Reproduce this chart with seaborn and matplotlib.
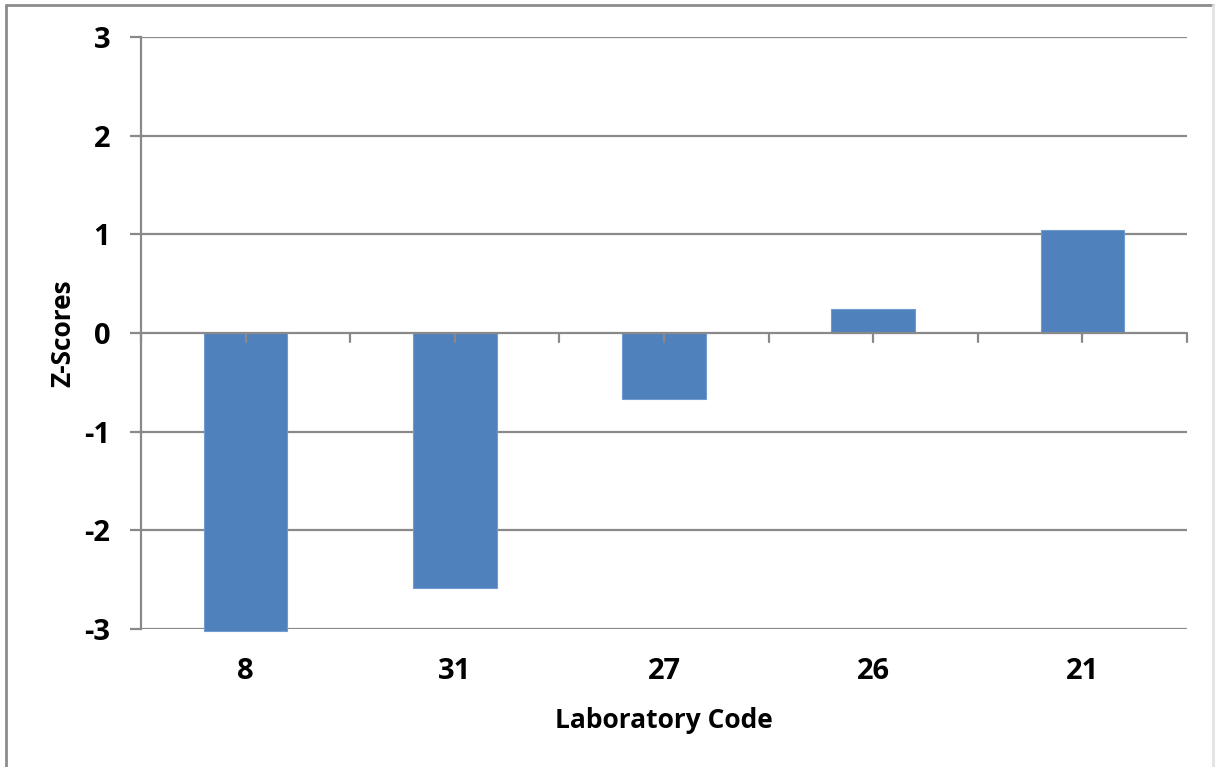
import pandas as pd
import matplotlib.pyplot as plt
import seaborn as sns
from matplotlib.lines import Line2D

# Data
lab_codes = ["8", "31", "27", "26", "21"]
z_scores = [-3.02, -2.59, -0.67, 0.24, 1.04]
y_ticks = [-3, -2, -1, 0, 1, 2, 3]

df = pd.DataFrame({"Laboratory Code": lab_codes, "Z-Scores": z_scores})

sns.set_style("white")
plt.rcParams["font.family"] = ["Open Sans", "DejaVu Sans"]
plt.rcParams["font.weight"] = "bold"
plt.rcParams["text.color"] = "black"
plt.rcParams["axes.labelcolor"] = "black"
plt.rcParams["xtick.labelcolor"] = "black"
plt.rcParams["ytick.labelcolor"] = "black"

grey = "#898989"
blue = "#4F81BD"

fig = plt.figure(figsize=(12.15, 7.67), dpi=100)
ax = fig.add_axes([0.116, 0.180, 0.861, 0.772])

sns.barplot(data=df, x="Laboratory Code", y="Z-Scores", color=blue,
            width=0.4, saturation=1, ax=ax, edgecolor="#6f9bd0", linewidth=0.8)
for p in ax.patches:
    p.set_clip_on(False)
    p.set_zorder(3)

ax.set_xlim(-0.5, len(lab_codes) - 0.5)
ax.set_ylim(-3, 3)
ax.set_yticks(y_ticks)
ax.set_yticklabels([str(t) for t in y_ticks])

# horizontal gridlines
for t in y_ticks:
    if t != 0:
        ax.axhline(t, color=grey, lw=1.6, zorder=1)
ax.axhline(0, color=grey, lw=1.6, zorder=4)

for s in ["top", "right", "bottom"]:
    ax.spines[s].set_visible(False)
ax.spines["left"].set_color(grey)
ax.spines["left"].set_linewidth(1.6)

ax.tick_params(axis="y", length=8, width=1.6, color=grey, left=True,
               labelsize=21, pad=14)
ax.tick_params(axis="x", length=0, labelsize=21, pad=20)

# x ticks hanging from the zero line, at centres and boundaries
n = len(lab_codes)
tick_pos = [i * 0.5 - 0.5 for i in range(2 * n + 1)]
for xp in tick_pos:
    ax.add_line(Line2D([xp, xp], [0, -0.09], color=grey, lw=1.6,
                       clip_on=False, zorder=4))

ax.set_xlabel("Laboratory Code", fontsize=19, fontweight="bold", labelpad=15)
ax.set_ylabel("Z-Scores", fontsize=19, fontweight="bold", labelpad=6)

# chart border
fig.add_artist(Line2D([0.005, 0.005], [0, 0.994], color="#8c8c8c", lw=2,
                      transform=fig.transFigure))
fig.add_artist(Line2D([0.005, 0.998], [0.994, 0.994], color="#8c8c8c", lw=2,
                      transform=fig.transFigure))
fig.add_artist(Line2D([0.998, 0.998], [0, 0.994], color="#e2e2e2", lw=2,
                      transform=fig.transFigure))

fig.savefig("out.png", dpi=100)
